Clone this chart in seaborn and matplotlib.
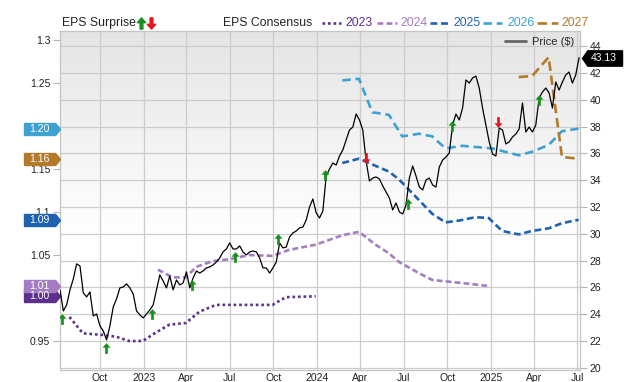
import numpy as np
import pandas as pd
import seaborn as sns
import matplotlib.pyplot as plt
import matplotlib.dates as mdates
from matplotlib.path import Path
from matplotlib.lines import Line2D
from matplotlib.ticker import FuncFormatter, MultipleLocator
from matplotlib.transforms import blended_transform_factory, ScaledTranslation

# weekly close, starting 2022-07-09
price_start = '2022-07-09'
price = [25.82, 24.25, 24.70, 25.82, 26.64, 27.76, 27.61, 25.60, 25.30, 25.67,
         23.88, 24.03, 23.14, 22.76, 22.09, 23.14, 24.55, 25.15, 25.97, 26.04,
         26.27, 25.97, 25.52, 24.25, 23.96, 23.73, 24.03, 24.33, 24.70, 25.82,
         26.94, 26.49, 25.97, 26.86, 25.82, 26.56, 26.19, 26.34, 27.16, 25.97,
         26.71, 27.23, 27.08, 27.23, 27.46, 27.53, 27.68, 27.90, 28.20, 28.65,
         28.87, 29.32, 28.87, 28.87, 29.10, 28.65, 28.43, 28.65, 28.72, 28.65,
         28.20, 27.46, 27.46, 27.08, 27.46, 27.90, 29.32, 28.95, 29.02, 29.77,
         30.07, 30.21, 30.44, 30.51, 31.03, 32.00, 32.60, 31.56, 31.18, 31.70,
         34.31, 34.83, 35.28, 35.13, 35.80, 36.25, 37.00, 37.74, 37.96, 38.93,
         38.49, 37.74, 35.43, 33.94, 34.16, 34.24, 34.09, 33.57, 33.12, 32.67,
         31.78, 32.30, 31.63, 31.48, 32.15, 34.16, 35.06, 34.31, 33.49, 33.27,
         34.01, 34.16, 33.64, 33.49, 34.98, 35.50, 35.73, 36.03, 38.11, 38.93,
         38.49, 39.38, 41.47, 41.24, 41.62, 41.76, 40.87, 39.38, 38.11, 36.85,
         35.95, 35.80, 37.89, 37.74, 36.70, 36.85, 37.22, 37.44, 37.82, 39.75,
         37.59, 37.96, 37.59, 38.11, 40.13, 40.57, 40.87, 40.50, 39.38, 41.32,
         40.72, 41.32, 41.84, 42.06, 41.24, 41.84, 43.13]

# EPS consensus by fiscal year
eps23_dates = ['2022-07-29', '2022-08-26', '2022-10-07', '2022-11-04', '2022-12-02', '2022-12-30',
               '2023-01-27', '2023-02-24', '2023-03-31', '2023-04-28', '2023-06-02', '2023-07-07',
               '2023-09-29', '2023-10-27', '2023-12-29']
eps23 = [0.978, 0.959, 0.957, 0.955, 0.950, 0.950, 0.960, 0.969, 0.971, 0.984, 0.992, 0.992,
         0.992, 1.001, 1.002]

eps24_dates = ['2023-01-31', '2023-03-03', '2023-03-31', '2023-04-21', '2023-05-26', '2023-06-30',
               '2023-08-11', '2023-09-29', '2023-11-03', '2023-12-29', '2024-02-23', '2024-03-29',
               '2024-05-03', '2024-05-31', '2024-06-21', '2024-08-02', '2024-08-30', '2024-10-04',
               '2024-11-08', '2024-12-27']
eps24 = [1.033, 1.024, 1.024, 1.036, 1.043, 1.045, 1.050, 1.049, 1.056, 1.062, 1.073, 1.077,
         1.062, 1.052, 1.042, 1.029, 1.021, 1.019, 1.017, 1.014]

eps25_dates = ['2024-02-23', '2024-03-29', '2024-05-31', '2024-06-21', '2024-07-19', '2024-08-30',
               '2024-09-27', '2024-10-25', '2024-11-29', '2024-12-27', '2025-01-24', '2025-02-28',
               '2025-03-28', '2025-05-02', '2025-05-30', '2025-07-04']
eps25 = [1.157, 1.162, 1.147, 1.138, 1.122, 1.098, 1.088, 1.090, 1.094, 1.093, 1.078, 1.074,
         1.078, 1.081, 1.087, 1.091]

eps26_dates = ['2024-02-23', '2024-03-29', '2024-04-26', '2024-05-31', '2024-06-28', '2024-08-02',
               '2024-08-30', '2024-09-27', '2024-11-01', '2025-01-03', '2025-02-28', '2025-03-28',
               '2025-05-02', '2025-05-30', '2025-07-04']
eps26 = [1.253, 1.255, 1.216, 1.213, 1.188, 1.191, 1.188, 1.174, 1.177, 1.174, 1.166, 1.170,
         1.178, 1.194, 1.197]

eps27_dates = ['2025-02-28', '2025-03-28', '2025-05-02', '2025-05-30', '2025-07-04']
eps27 = [1.257, 1.258, 1.280, 1.164, 1.162]

# earnings surprises (1 = beat, 0 = miss)
surprise_dates = ['2022-07-13', '2022-10-14', '2023-01-18', '2023-04-13', '2023-07-12', '2023-10-11',
                  '2024-01-18', '2024-04-12', '2024-07-11', '2024-10-11', '2025-01-16', '2025-04-11']
surprise_price = [23.68, 21.51, 24.05, 26.21, 28.31, 29.65, 34.35, 35.62, 32.26, 38.01, 38.31, 39.95]
surprise_beat = [1, 1, 1, 1, 1, 1, 1, 0, 1, 1, 0, 1]

years = ['2023', '2024', '2025', '2026', '2027']
colors = {'2023': '#5d2e8c', '2024': '#a57cc4', '2025': '#1f62b0', '2026': '#3da2d2', '2027': '#b47a2c'}
styles = {'2023': (0, (1, 1.1)), '2024': (0, (2.2, 1.2)), '2025': (0, (2.6, 1.4)),
          '2026': (0, (3.2, 1.8)), '2027': (0, (3.6, 1.8))}
series = {'2023': (eps23_dates, eps23), '2024': (eps24_dates, eps24), '2025': (eps25_dates, eps25),
          '2026': (eps26_dates, eps26), '2027': (eps27_dates, eps27)}

GREEN, RED = '#17911e', '#e8141c'
up_arrow = Path([(0, 1), (0.75, 0.15), (0.25, 0.15), (0.25, -1), (-0.25, -1), (-0.25, 0.15),
                 (-0.75, 0.15), (0, 1)], closed=True)
down_arrow = Path([(x, -y) for x, y in up_arrow.vertices], closed=True)
left_badge = Path([(-3, -1), (2.2, -1), (3, 0), (2.2, 1), (-3, 1), (-3, -1)], closed=True)
right_badge = Path([(-3, 0), (-2.2, 1.15), (3, 1.15), (3, -1.15), (-2.2, -1.15), (-3, 0)], closed=True)

sns.set_style('white')
plt.rcParams['font.family'] = ['Liberation Sans', 'DejaVu Sans']

W, H = 640, 382
fig = plt.figure(figsize=(6.4, 3.82), dpi=100)
rect = [60 / W, 12 / H, 520 / W, 339 / H]

# gradient background
bg = fig.add_axes(rect, zorder=-1)
t = np.clip(np.linspace(0, 1, 256) / 0.6, 0, 1)
shade = 0.895 + 0.105 * t
bg.imshow(np.dstack([shade, shade, shade]).reshape(256, 1, 3), aspect='auto', extent=(0, 1, 0, 1))
bg.axis('off')

ax = fig.add_axes(rect)
ax.patch.set_visible(False)
ax_eps = ax.twinx()
ax_top = ax.twinx()

price_dates = pd.date_range(price_start, periods=len(price), freq='7D')

for yr in years:
    d, v = series[yr]
    sns.lineplot(x=pd.to_datetime(d), y=v, ax=ax_eps, color=colors[yr], lw=1.9,
                 linestyle=styles[yr])

sns.lineplot(x=price_dates, y=price, ax=ax_top, color='black', lw=0.9)

sd = pd.to_datetime(surprise_dates)
beat = np.array(surprise_beat) == 1
sp = np.array(surprise_price)
sns.scatterplot(x=sd[beat], y=sp[beat], ax=ax_top, marker=up_arrow, s=60, color=GREEN,
                linewidth=0, zorder=5)
sns.scatterplot(x=sd[~beat], y=sp[~beat], ax=ax_top, marker=down_arrow, s=60, color=RED,
                linewidth=0, zorder=5)

# axes limits and ticks
ax.set_xlim(pd.Timestamp('2022-07-09'), pd.Timestamp('2025-07-07'))
ax.set_ylim(19.85, 45.12)
ax_top.set_ylim(19.85, 45.12)
ax_eps.set_ylim(0.9163, 1.3105)

ax.xaxis.set_major_locator(mdates.MonthLocator(bymonth=[1, 4, 7, 10]))
ax.xaxis.set_major_formatter(FuncFormatter(
    lambda x, pos: str(mdates.num2date(x).year) if mdates.num2date(x).month == 1
    else mdates.num2date(x).strftime('%b')))
ax.yaxis.set_major_locator(MultipleLocator(2))
ax.yaxis.tick_right()
ax.tick_params(axis='x', length=0, pad=2, labelsize=7.5, colors='#222')
ax.tick_params(axis='y', right=True, left=False, labelright=True, labelleft=False,
               length=5, width=0.8, color='#b5b5b5', pad=2, labelsize=7.5, labelcolor='#222')

# 1.2 and 1.0 sit fully under the value badges, so leave them blank
hidden_ticks = {'1.2', '1'}
ax_eps.yaxis.tick_left()
ax_eps.yaxis.set_major_locator(MultipleLocator(0.05))
ax_eps.yaxis.set_major_formatter(FuncFormatter(
    lambda v, pos: '' if f'{v:g}' in hidden_ticks else f'{v:g}'))
ax_eps.tick_params(axis='y', length=5, width=0.8, color='#b5b5b5', pad=2, labelsize=7.5,
                   labelcolor='#222')
ax_top.set_yticks([])

ax.grid(True, color='#cccccc', lw=0.9)
ax.set_axisbelow(True)
for s in ax.spines.values():
    s.set_color('#c4c4c4')
    s.set_linewidth(0.9)
for a in (ax_eps, ax_top):
    for s in a.spines.values():
        s.set_visible(False)
for a in (ax, ax_eps, ax_top):
    a.set_xlabel('')
    a.set_ylabel('')

# value badges
left_tr = blended_transform_factory(ax_eps.transAxes, ax_eps.transData)
for yr in years:
    v = series[yr][1][-1]
    ax_eps.plot([0], [v], marker=left_badge, ms=25.9, color=colors[yr], linestyle='none',
                transform=left_tr + ScaledTranslation(-18 / 100, 0, fig.dpi_scale_trans),
                clip_on=False, zorder=10)
    ax_eps.text(0, v, f'{v:.2f}', color='white', fontsize=7.5, ha='center', va='center',
                transform=left_tr + ScaledTranslation(-21 / 100, 0, fig.dpi_scale_trans),
                clip_on=False, zorder=11)

right_tr = blended_transform_factory(ax_top.transAxes, ax_top.transData)
ax_top.plot([1], [price[-1]], marker=right_badge, ms=28.8, color='black', linestyle='none',
            transform=right_tr + ScaledTranslation(22 / 100, 0, fig.dpi_scale_trans),
            clip_on=False, zorder=10)
ax_top.text(1, price[-1], f'{price[-1]:.2f}', color='white', fontsize=7.5, ha='center', va='center',
            transform=right_tr + ScaledTranslation(24 / 100, 0, fig.dpi_scale_trans),
            clip_on=False, zorder=11)

ax_top.legend(handles=[Line2D([], [], color='#666666', lw=2)], labels=['Price ($)'],
              loc='upper right', frameon=False, fontsize=8, handlelength=1.9, handletextpad=0.5,
              borderaxespad=0.35, borderpad=0.2)

# top legend
ly = 1 - 23 / H
fig.text(62 / W, ly, 'EPS Surprise', fontsize=8.8, color='#222', va='center', ha='left')
fig.add_artist(Line2D([141 / W], [ly], marker=up_arrow, ms=8, color=GREEN, linestyle='none',
                      transform=fig.transFigure))
fig.add_artist(Line2D([151 / W], [ly], marker=down_arrow, ms=8, color=RED, linestyle='none',
                      transform=fig.transFigure))
fig.text(223 / W, ly, 'EPS Consensus', fontsize=8.8, color='#222', va='center', ha='left')
legend_pos = {'2023': (322, 341, 345), '2024': (377, 397, 400), '2025': (430, 451, 453),
              '2026': (483, 502, 507), '2027': (537, 558, 561)}
for yr in years:
    x0, x1, xt = legend_pos[yr]
    fig.add_artist(Line2D([x0 / W, x1 / W], [ly, ly], color=colors[yr], lw=1.9,
                          linestyle=styles[yr], transform=fig.transFigure))
    fig.text(xt / W, ly, yr, fontsize=8.8, color=colors[yr], va='center', ha='left')

fig.savefig('out.png', dpi=100)
